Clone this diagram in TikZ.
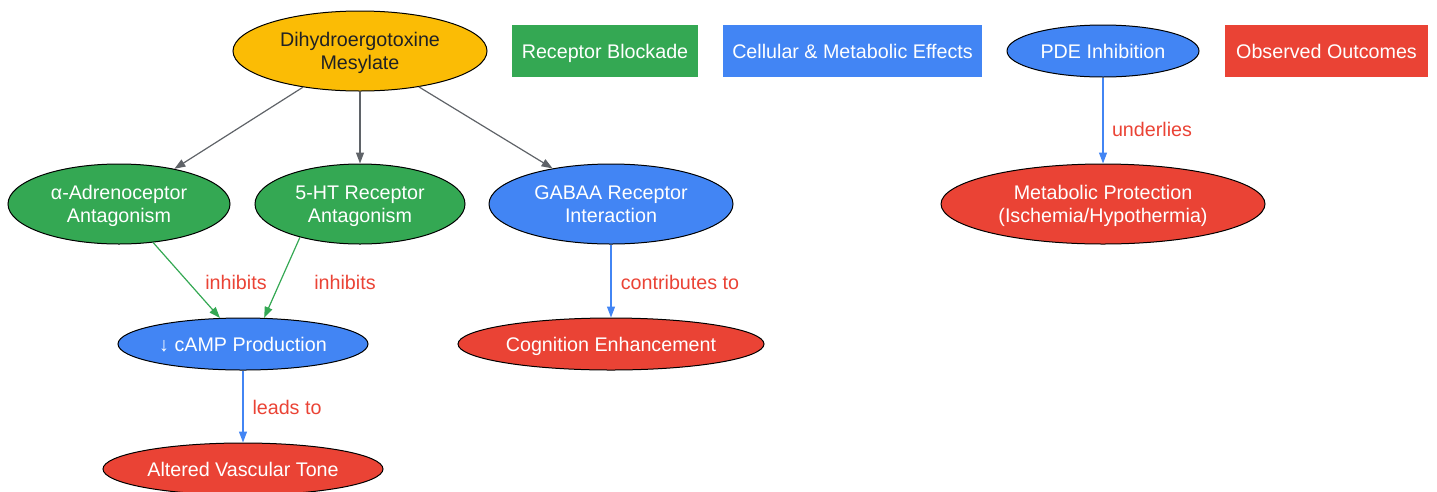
\documentclass[tikz,border=0pt]{standalone}
\usepackage{fontspec}
\setmainfont{Liberation Sans}
\usetikzlibrary{shapes.geometric,arrows.meta}
\definecolor{gyellow}{HTML}{FBBC05}
\definecolor{ggreen}{HTML}{34A853}
\definecolor{gblue}{HTML}{4285F4}
\definecolor{gred}{HTML}{EA4335}
\definecolor{ggray}{HTML}{5F6368}
\definecolor{gdark}{HTML}{202124}
\begin{document}
\begin{tikzpicture}[x=1pt,y=-1pt,
  every node/.style={font=\fontsize{19.7}{22.5}\selectfont, align=center},
  one/.style={text height=16pt, text depth=1pt},
  two/.style={text depth=0pt},
  ell/.style={ellipse, draw=black, line width=1pt, inner sep=0pt, text=white},
  box/.style={rectangle, inner sep=0pt, text=white, minimum height=52pt, one},
  lbl/.style={text=gred, inner sep=0pt},
  arr/.style={line width=1.2pt, -{Triangle[length=11pt,width=8pt]}},
]
\useasboundingbox (0,0) rectangle (1437,491);
% nodes
\node[ell, two, fill=gyellow, text=gdark, minimum width=254pt, minimum height=80pt] (dhe) at (360,51) {Dihydroergotoxine\\Mesylate};
\node[box, fill=ggreen, minimum width=186pt] (kRB) at (605,51) {Receptor Blockade};
\node[box, fill=gblue, minimum width=259pt] (kCM) at (852.5,51) {Cellular \& Metabolic Effects};
\node[ell, fill=gblue, one, minimum width=192pt, minimum height=52pt] (pde) at (1103,51) {PDE Inhibition};
\node[box, fill=gred, minimum width=203pt] (kOO) at (1326.5,51) {Observed Outcomes};
\node[ell, two, fill=ggreen, minimum width=222pt, minimum height=80pt] (alpha) at (119,204) {α-Adrenoceptor\\Antagonism};
\node[ell, two, fill=ggreen, minimum width=210pt, minimum height=80pt] (ht) at (360,204) {5-HT Receptor\\Antagonism};
\node[ell, two, fill=gblue, minimum width=244pt, minimum height=80pt] (gaba) at (611,204) {GABAA Receptor\\Interaction};
\node[ell, two, fill=gred, minimum width=324pt, minimum height=80pt] (meta) at (1103,204) {Metabolic Protection\\(Ischemia/Hypothermia)};
\node[ell, fill=gblue, one, minimum width=250pt, minimum height=52pt] (camp) at (243,344) {↓ cAMP Production};
\node[ell, fill=gred, one, minimum width=306pt, minimum height=52pt] (cog) at (611,344) {Cognition Enhancement};
\node[ell, fill=gred, one, minimum width=280pt, minimum height=52pt] (avt) at (243,469) {Altered Vascular Tone};
% edges
\draw[arr, ggray] (dhe) -- (alpha);
\draw[arr, ggray] (dhe) -- (ht);
\draw[arr, ggray] (dhe) -- (gaba);
\draw[arr, ggreen] (alpha) -- (camp) node[lbl] at (236,282) {inhibits};
\draw[arr, ggreen] (ht.209) -- (camp.51) node[lbl] at (345,282) {inhibits};
\draw[arr, gblue] (gaba) -- (cog) node[lbl] at (680,282) {contributes to};
\draw[arr, gblue] (camp) -- (avt) node[lbl] at (287,407) {leads to};
\draw[arr, gblue] (pde) -- (meta) node[lbl] at (1152,129) {underlies};
\end{tikzpicture}
\end{document}
